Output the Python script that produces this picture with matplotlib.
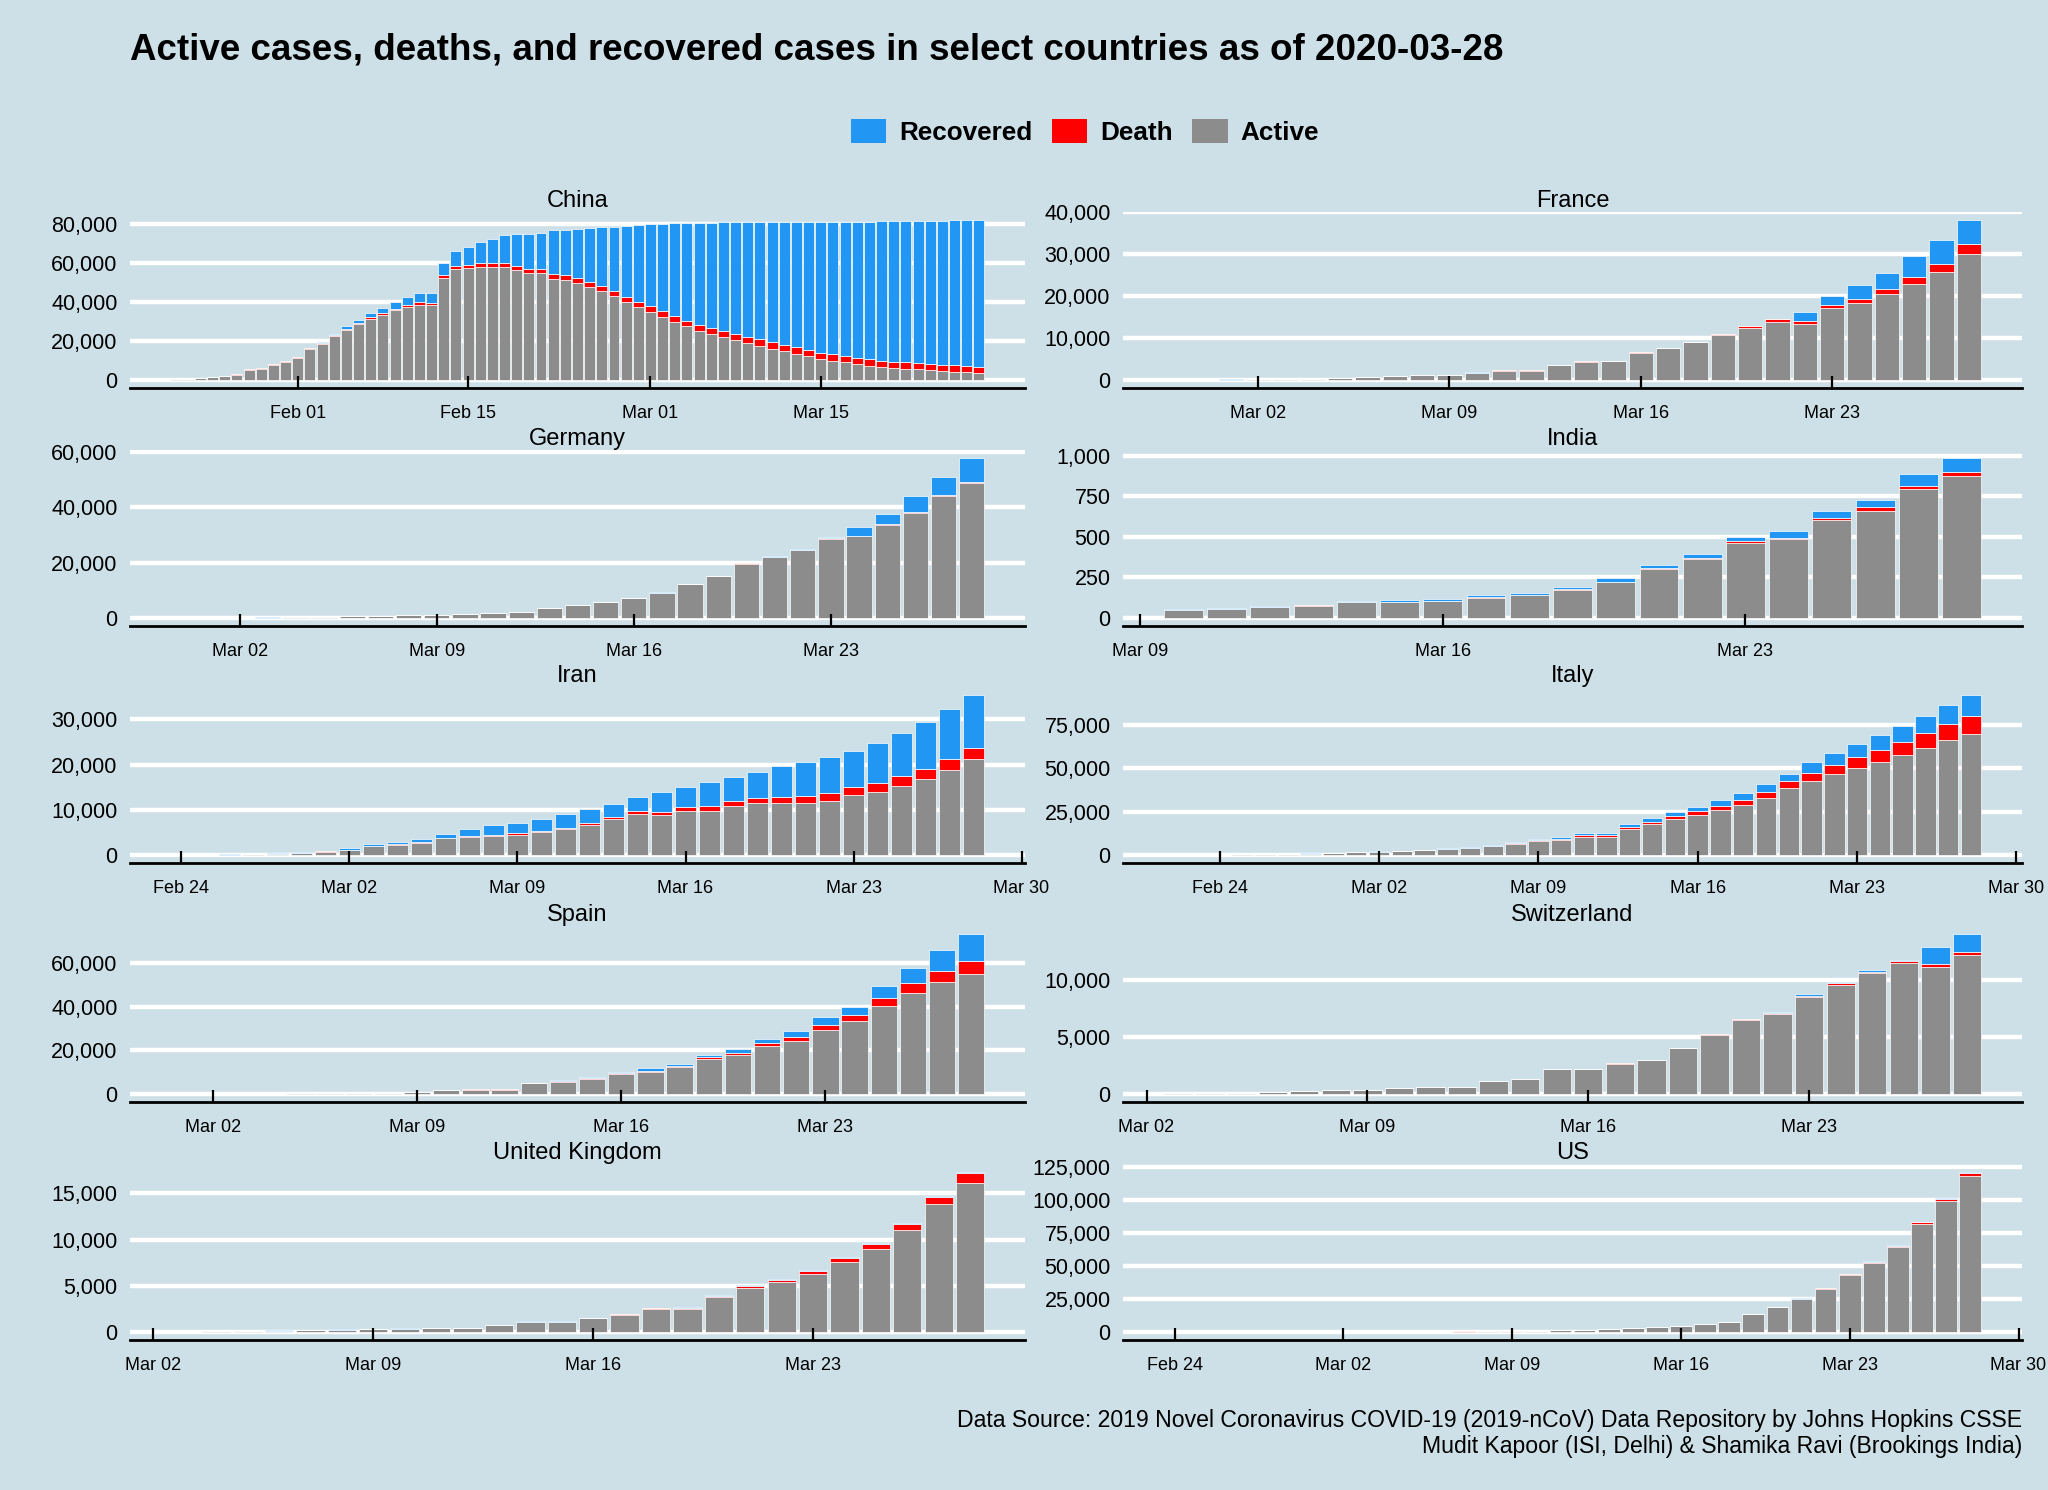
import numpy as np
import pandas as pd
import matplotlib
matplotlib.use("Agg")
import matplotlib.pyplot as plt
import matplotlib.dates as mdates
from matplotlib.patches import Patch
from matplotlib.ticker import FuncFormatter, MultipleLocator

plt.rcParams["font.family"] = ["Liberation Sans", "DejaVu Sans"]

BG = "#cddfe7"
COL_ACTIVE = "#8c8c8c"
COL_DEATH = "#ff0000"
COL_RECOVERED = "#2196f3"

countries = ["China", "France", "Germany", "India", "Iran", "Italy",
             "Spain", "Switzerland", "United Kingdom", "US"]
start_dates = ["2020-01-22", "2020-02-28", "2020-02-29", "2020-03-10", "2020-02-24",
               "2020-02-22", "2020-03-01", "2020-03-03", "2020-03-03", "2020-02-24"]

# daily values (Active / Death / Recovered)
china_active = [503, 595, 858, 1325, 1970, 2737, 5277, 5834, 7835, 9375, 11357, 15806, 18677,
                22373, 25762, 28478, 31394, 33414, 35706, 37425, 38639, 38563, 52313, 56864,
                57456, 57999, 58115, 58009, 56551, 54837, 54619, 51871, 51407, 49656, 47439,
                45396, 42956, 39847, 37240, 34942, 32412, 29910, 27448, 25282, 23758, 22220,
                20403, 19002, 17642, 16116, 14859, 13569, 12124, 10783, 9906, 9030, 8106, 7372,
                6731, 6189, 5799, 5410, 5030, 4603, 4310, 3881, 3600]
china_deaths = [17, 18, 26, 42, 56, 82, 131, 133, 171, 213, 259, 361, 425, 491, 563, 633, 718,
                805, 905, 1012, 1112, 1117, 1369, 1521, 1663, 1766, 1864, 2003, 2116, 2238, 2238,
                2443, 2445, 2595, 2665, 2717, 2746, 2790, 2837, 2872, 2914, 2947, 2983, 3015,
                3044, 3072, 3100, 3123, 3139, 3161, 3172, 3180, 3193, 3203, 3217, 3230, 3241,
                3249, 3253, 3259, 3274, 3274, 3281, 3285, 3291, 3296, 3299]
china_recovered = [28, 30, 36, 39, 49, 58, 101, 120, 135, 214, 275, 463, 614, 843, 1115, 1476,
                   1998, 2595, 3218, 3917, 4635, 5079, 6213, 7973, 9294, 10748, 12455, 14199,
                   15952, 18002, 18693, 22687, 23170, 24990, 27650, 30053, 32898, 36291, 39279,
                   42118, 44810, 47404, 49955, 52240, 53888, 55478, 57320, 58735, 60106, 61644,
                   62901, 64196, 65660, 67017, 67910, 68798, 69755, 70535, 71266, 71857, 72362,
                   72814, 73280, 73773, 74181, 74720, 75100]

france_active = [44, 86, 116, 176, 188, 272, 362, 635, 936, 1105, 1188, 1749, 2233, 2233, 3590,
                 4393, 4429, 6523, 7555, 8964, 10715, 12296, 13889, 13369, 17056, 18241, 20369,
                 22907, 25707, 30067]
france_deaths = [2, 2, 2, 3, 4, 4, 6, 9, 11, 19, 19, 33, 48, 48, 79, 91, 91, 148, 148, 148, 243,
                 450, 562, 674, 860, 1100, 1331, 1696, 1995, 2314]
france_recovered = [11] + [12] * 22 + [2200, 2207, 3281, 3900, 4948, 5700, 5724]

germany_active = [63, 114, 143, 180, 246, 466, 653, 781, 1022, 1156, 1437, 1880, 2050, 3622,
                  4530, 5738, 7188, 9166, 12194, 15163, 19601, 21896, 24513, 28667, 29586,
                  33570, 37998, 43871, 48781]
germany_deaths = [0] * 9 + [2, 2, 3, 3, 7, 9, 11, 17, 24, 28, 44, 67, 84, 94, 123, 157, 206,
                            267, 342, 433]
germany_recovered = [16, 16, 16, 16, 16, 16, 17, 18, 18, 18, 18, 25, 25, 46, 46, 46, 67, 67,
                     105, 113, 180, 233, 266, 266, 3243, 3547, 5673, 6658, 8481]

india_active = [52, 57, 68, 76, 96, 98, 104, 125, 139, 175, 219, 303, 362, 462, 486, 602, 662,
                794, 879]
india_deaths = [0, 1, 1, 2, 2, 2, 2, 3, 3, 4, 5, 4, 7, 10, 10, 12, 20, 20, 24]
india_recovered = [4, 4, 4, 4, 4, 13, 13, 14, 14, 15, 20, 23, 27, 27, 40, 43, 45, 73, 84]

iran_active = [49, 79, 71, 170, 281, 427, 749, 1144, 1968, 2278, 2667, 3710, 4009, 4238, 4530,
               5020, 5687, 6687, 7891, 9159, 8875, 9799, 9792, 10837, 11413, 11466, 11419,
               12022, 13306, 13964, 15315, 16715, 18821, 21212]
iran_deaths = [12, 16, 19, 26, 34, 43, 54, 66, 77, 92, 107, 124, 145, 194, 237, 291, 354, 429,
               514, 611, 724, 853, 988, 1135, 1284, 1433, 1556, 1685, 1812, 1934, 2077, 2234,
               2378, 2517]
iran_recovered = [0, 0, 49, 49, 73, 123, 175, 291, 291, 552, 739, 913, 1669, 2134, 2394, 2731,
                  2959, 2959, 2959, 2959, 4339, 4339, 5389, 5389, 5710, 6745, 7635, 7931, 7931,
                  8913, 9625, 10457, 11133, 11679]

italy_active = [59, 150, 221, 311, 438, 593, 821, 1053, 1577, 1835, 2263, 2706, 3296, 3916,
                5061, 6387, 7985, 8794, 10590, 10590, 14955, 17750, 20603, 23073, 26062, 28710,
                33190, 38549, 42681, 46638, 50418, 54030, 57521, 62013, 66414, 70065]
italy_deaths = [2, 3, 7, 10, 12, 17, 21, 29, 34, 52, 79, 107, 148, 197, 233, 366, 463, 631,
                827, 827, 1266, 1441, 1809, 2158, 2503, 2978, 3405, 4032, 4825, 5476, 6077,
                6820, 7503, 8215, 9134, 10023]
italy_recovered = [1, 2, 1, 1, 3, 45, 46, 46, 83, 149, 160, 276, 414, 523, 589, 622, 724, 724,
                   1045, 1045, 1439, 1966, 2335, 2749, 2941, 4025, 4440, 4440, 6072, 7024, 7432,
                   8326, 9362, 10361, 10950, 12384]

spain_active = [82, 118, 162, 218, 254, 393, 460, 626, 1013, 1628, 2040, 2039, 4906, 5679,
                6992, 9070, 10187, 12206, 16026, 17779, 21874, 24421, 29470, 33283, 40501,
                46406, 51224, 54968]
spain_deaths = [0, 0, 1, 2, 3, 5, 10, 17, 28, 35, 54, 55, 133, 195, 289, 342, 533, 623, 830,
                1043, 1375, 1772, 2311, 2808, 3647, 4365, 5138, 5982]
spain_recovered = [2, 2, 2, 2, 2, 2, 30, 30, 32, 32, 183, 183, 193, 517, 517, 530, 1028, 1081,
                   1107, 1588, 2125, 2575, 3355, 3794, 5367, 7015, 9357, 12285]

swiss_active = [54, 87, 110, 210, 264, 332, 369, 485, 644, 644, 1124, 1342, 2182, 2182, 2669,
                2996, 4030, 5225, 6485, 7016, 8544, 9624, 10613, 11489, 11167, 12217]
swiss_deaths = [0, 0, 1, 1, 1, 2, 2, 3, 4, 4, 11, 13, 14, 14, 27, 28, 41, 54, 75, 98, 120, 122,
                153, 191, 231, 264]
swiss_recovered = [2, 3, 3, 3, 3, 3, 3, 3, 4, 4, 4, 4, 4, 4, 4, 4, 4, 15, 15, 131, 131, 131,
                   131, 131, 1530, 1595]

uk_active = [43, 78, 107, 154, 197, 263, 310, 370, 443, 432, 775, 1104, 1105, 1474, 1852, 2503,
             2511, 3769, 4766, 5396, 6250, 7601, 9034, 11081, 13833, 16140]
uk_deaths = [0, 0, 1, 2, 2, 3, 4, 6, 8, 8, 8, 21, 21, 56, 56, 72, 138, 178, 234, 282, 336, 423,
             466, 580, 761, 1021]
uk_recovered = [8] * 9 + [19, 19, 19, 19, 21, 52, 67, 67, 67, 67, 67, 140, 140, 140, 151, 151,
                          151]

us_active = [46, 46, 52, 52, 54, 60, 66, 85, 104, 131, 198, 241, 378, 490, 554, 923, 1237, 1611,
             2120, 2661, 3424, 4530, 6296, 7560, 13426, 18882, 25117, 32671, 43117, 52686,
             64475, 81946, 99207, 118380]
us_deaths = [0, 0, 0, 0, 0, 1, 1, 6, 7, 11, 12, 14, 17, 21, 22, 28, 36, 40, 47, 54, 63, 85, 108,
             118, 200, 244, 307, 427, 552, 706, 942, 1209, 1581, 2026]
us_recovered = [5, 5, 5, 6, 6, 7, 7, 7, 7, 7, 7, 7, 7, 7, 7, 8, 8, 12, 12, 12, 12, 17, 17, 105,
                121, 147, 176, 178, 178, 348, 361, 681, 869, 1072]

# y tick spacing for each panel (same order as countries)
y_steps = [20000, 10000, 20000, 250, 10000, 25000, 20000, 5000, 5000, 25000]

series = {
    "China": (china_active, china_deaths, china_recovered),
    "France": (france_active, france_deaths, france_recovered),
    "Germany": (germany_active, germany_deaths, germany_recovered),
    "India": (india_active, india_deaths, india_recovered),
    "Iran": (iran_active, iran_deaths, iran_recovered),
    "Italy": (italy_active, italy_deaths, italy_recovered),
    "Spain": (spain_active, spain_deaths, spain_recovered),
    "Switzerland": (swiss_active, swiss_deaths, swiss_recovered),
    "United Kingdom": (uk_active, uk_deaths, uk_recovered),
    "US": (us_active, us_deaths, us_recovered),
}


def draw_panel(ax, name, start, step):
    active, deaths, recovered = (np.array(v, dtype=float) for v in series[name])
    dates = pd.date_range(start, periods=len(active), freq="D")
    x = mdates.date2num(dates.to_pydatetime())

    bar_kw = dict(width=0.9, edgecolor="white", linewidth=0.5, zorder=2)
    ax.bar(x, active, color=COL_ACTIVE, **bar_kw)
    ax.bar(x, deaths, bottom=active, color=COL_DEATH, **bar_kw)
    ax.bar(x, recovered, bottom=active + deaths, color=COL_RECOVERED, **bar_kw)

    # ggplot-like expansion of the limits
    lo, hi = x[0] - 0.45, x[-1] + 0.45
    pad = 0.05 * (hi - lo)
    ax.set_xlim(lo - pad, hi + pad)
    top = (active + deaths + recovered).max()
    ax.set_ylim(-0.05 * top, 1.05 * top)

    freq = "SMS" if name == "China" else "W-MON"
    ticks = pd.date_range(mdates.num2date(lo - pad).date(), mdates.num2date(hi + pad).date(), freq=freq)
    ticks = [t for t in mdates.date2num(ticks.to_pydatetime()) if lo - pad <= t <= hi + pad]
    ax.set_xticks(ticks)
    ax.xaxis.set_major_formatter(mdates.DateFormatter("%b %d"))

    ax.yaxis.set_major_locator(MultipleLocator(step))
    ax.yaxis.set_major_formatter(FuncFormatter(lambda v, p: f"{v:,.0f}"))

    # white horizontal grid under the bars, axis (ticks) above them
    ax.set_facecolor(BG)
    for yv in ax.get_yticks():
        if -0.05 * top <= yv <= 1.05 * top:
            ax.axhline(yv, color="white", linewidth=3.2, zorder=1)
    ax.grid(False)
    ax.set_axisbelow(False)
    for s in ["top", "left", "right"]:
        ax.spines[s].set_visible(False)
    ax.spines["bottom"].set_color("black")
    ax.spines["bottom"].set_linewidth(2)
    ax.spines["bottom"].set_zorder(4)

    ax.tick_params(axis="x", direction="in", length=9, width=1.6, color="black",
                   labelsize=13, pad=12)
    ax.tick_params(axis="y", length=0, labelsize=15.5, pad=9)
    ax.set_title(name, fontsize=17, pad=3)


def main():
    fig = plt.figure(figsize=(20.48, 14.9), dpi=100, facecolor=BG)
    W, H = 2048, 1490

    col_left = [130, 1123]
    col_width = [895, 899]
    row_bottom = [388, 626, 863, 1102, 1340]
    panel_h = 176

    for i, (name, start) in enumerate(zip(countries, start_dates)):
        r, c = divmod(i, 2)
        ax = fig.add_axes([col_left[c] / W, 1 - row_bottom[r] / H, col_width[c] / W, panel_h / H])
        draw_panel(ax, name, start, y_steps[i])

    fig.text(130 / W, 1 - 50 / H,
             "Active cases, deaths, and recovered cases in select countries as of 2020-03-28",
             fontsize=26.5, fontweight="bold", ha="left", va="center")

    handles = [Patch(facecolor=COL_RECOVERED, label="Recovered"),
               Patch(facecolor=COL_DEATH, label="Death"),
               Patch(facecolor=COL_ACTIVE, label="Active")]
    fig.legend(handles=handles, loc="center", bbox_to_anchor=(1085 / W, 1 - 132 / H), ncol=3,
               frameon=False, prop={"weight": "bold", "size": 18.8}, handlelength=1.35,
               handleheight=1.0, handletextpad=0.5, columnspacing=0.75)

    fig.text(2022 / W, 1 - 1420 / H,
             "Data Source: 2019 Novel Coronavirus COVID-19 (2019-nCoV) Data Repository by Johns Hopkins CSSE",
             fontsize=16.6, ha="right", va="center")
    fig.text(2022 / W, 1 - 1446 / H, "Mudit Kapoor (ISI, Delhi) & Shamika Ravi (Brookings India)",
             fontsize=16.6, ha="right", va="center")

    fig.savefig("out.png", dpi=100, facecolor=BG)
    plt.close(fig)


if __name__ == "__main__":
    main()
